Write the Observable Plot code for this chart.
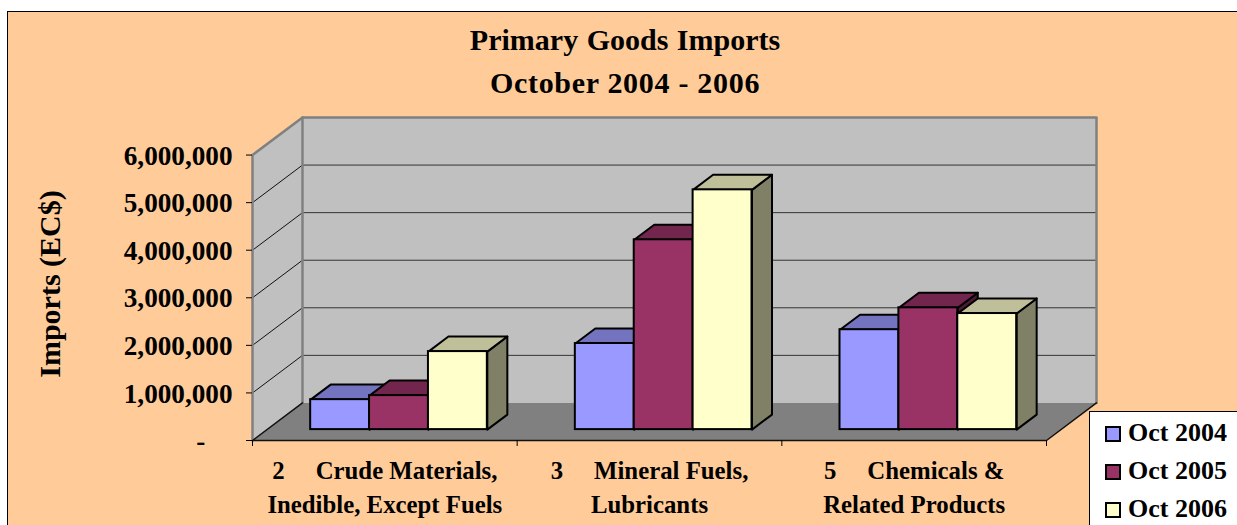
<!DOCTYPE html>
<html>
<head>
<meta charset="utf-8">
<script src="https://cdn.jsdelivr.net/npm/d3@7"></script>
<script src="https://cdn.jsdelivr.net/npm/@observablehq/plot@0.6"></script>
<style>
  html, body { margin: 0; padding: 0; background: #fff; overflow: hidden; }
  body { width: 1237px; height: 525px; position: relative; font-family: "Liberation Serif", serif; font-weight: bold; color: #000; }
  #panel { position: absolute; left: 7px; top: 11px; right: 0; bottom: 0; background: #FFCC99; border-left: 1.5px solid #000; border-top: 1.5px solid #000; }
  #chart { position: absolute; left: 0; top: 0; }
  #chart svg { display: block; background: transparent; }
  #title { position: absolute; left: 7px; width: 1236px; top: 18px; text-align: center; font-size: 30px; line-height: 43px; }
  #title .a { word-spacing: 1px; }
  #title .b { letter-spacing: 0.7px; }
  #legend { position: absolute; left: 1089px; top: 411px; width: 148px; height: 114px; background: #fff; border-left: 1.5px solid #000; border-top: 1.5px solid #000; box-sizing: border-box; }
  .item { position: absolute; left: 15px; font-size: 26px; line-height: 30px; white-space: nowrap; }
  .item i { position: absolute; left: 0; top: 8px; width: 12px; height: 12px; border: 2px solid #000; }
  .item span { position: absolute; left: 23px; top: 0; }
</style>
</head>
<body>
<div id="panel"></div>
<div id="chart"></div>
<div id="title"><span class="a">Primary Goods Imports</span><br><span class="b">October 2004 - 2006</span></div>
<div id="legend"></div>
<script>
const categories = [
  "2\u00a0\u00a0\u00a0\u00a0\u00a0Crude Materials,\nInedible, Except Fuels",
  "3\u00a0\u00a0\u00a0\u00a0\u00a0Mineral Fuels,\nLubricants",
  "5\u00a0\u00a0\u00a0\u00a0\u00a0Chemicals &\nRelated Products"
];
const seriesNames = ["Oct 2004", "Oct 2005", "Oct 2006"];
const oct2004 = [630000, 1810000, 2100000];
const oct2005 = [715000, 3990000, 2560000];
const oct2006 = [1640000, 5040000, 2440000];
const yTicks = [0, 1000000, 2000000, 3000000, 4000000, 5000000, 6000000];
const frontColors = ["#9999FF", "#993366", "#FFFFCC"];
const topColors = ["#7373BF", "#73264D", "#BFBF99"];
const sideColors = ["#4D4D80", "#4D1A33", "#808066"];

const seriesValues = [oct2004, oct2005, oct2006];
const DX = 0.1889, DY = 789500, YMAX = 6000000, XMAX = 3 + DX;
const D0 = 0.29, D1 = 0.69, GAP = 0.165, BW = 0.2225;
const P = (x, v, d = 0) => ({x: x + d * DX, y: v + d * DY});
const poly = (pts) => [...pts, pts[0]];

const bars = categories.flatMap((c, i) => seriesNames.map((s, k) => {
  const x1 = i + GAP + k * BW, x2 = x1 + BW, v = seriesValues[k][i];
  return {x1, x2, v, k};
}));

const barMarks = bars.flatMap(({x1, x2, v, k}) => [
  Plot.line(poly([P(x2, 0, D0), P(x2, 0, D1), P(x2, v, D1), P(x2, v, D0)]),
    {x: "x", y: "y", fill: sideColors[k], stroke: "#000", strokeWidth: 2, curve: "linear"}),
  Plot.line(poly([P(x1, v, D0), P(x1, v, D1), P(x2, v, D1), P(x2, v, D0)]),
    {x: "x", y: "y", fill: topColors[k], stroke: "#000", strokeWidth: 2, curve: "linear"}),
  Plot.rect([{x1: x1 + D0 * DX, x2: x2 + D0 * DX, y1: D0 * DY, y2: v + D0 * DY}],
    {x1: "x1", x2: "x2", y1: "y1", y2: "y2", fill: frontColors[k], stroke: "#000", strokeWidth: 2})
]);

const gridTicks = yTicks.slice(1, -1);

const plot = Plot.plot({
  width: 1237, height: 525,
  marginLeft: 252, marginRight: 141, marginTop: 117, marginBottom: 85,
  x: {domain: [0, XMAX], axis: null},
  y: {domain: [0, YMAX + DY], axis: null},
  style: {fontFamily: "'Liberation Serif', serif", fontWeight: "bold", fontSize: "26px", background: "transparent", color: "#000", overflow: "visible"},
  marks: [
    // walls
    Plot.line(poly([P(0, 0), P(0, YMAX), P(0, YMAX, 1), P(0, 0, 1)]), {x: "x", y: "y", fill: "#C0C0C0"}),
    Plot.line(poly([P(0, 0, 1), P(0, YMAX, 1), P(3, YMAX, 1), P(3, 0, 1)]), {x: "x", y: "y", fill: "#C0C0C0"}),
    // floor
    Plot.line(poly([P(0, 0), P(3, 0), P(3, 0, 1), P(0, 0, 1)]), {x: "x", y: "y", fill: "#808080"}),
    // gridlines
    ...gridTicks.map(v => Plot.line([P(0, v), P(0, v, 1)], {x: "x", y: "y", stroke: "#111", strokeWidth: 1})),
    ...gridTicks.map(v => Plot.line([P(0, v, 1), P(3, v, 1)], {x: "x", y: "y", stroke: "#333", strokeWidth: 1})),
    // wall edges
    Plot.line([P(0, 0), P(0, YMAX), P(0, YMAX, 1), P(3, YMAX, 1), P(3, 0, 1)], {x: "x", y: "y", stroke: "#808080", strokeWidth: 2.5}),
    Plot.line([P(0, 0, 1), P(0, YMAX, 1)], {x: "x", y: "y", stroke: "#808080", strokeWidth: 2.5}),
    // floor edges
    Plot.line([P(0, 0, 1), P(0, 0), P(3, 0), P(3, 0, 1)], {x: "x", y: "y", stroke: "#111", strokeWidth: 1.5}),
    ...barMarks,
    // axes
    Plot.axisY({ticks: yTicks, tickSize: 6, tickFormat: () => "", label: null, stroke: "#000"}),
    Plot.axisY({
      ticks: yTicks, tickSize: 0, tickPadding: 20, label: null, fontSize: 27.2, dy: 1,
      tickFormat: d => d === 0 ? "-\u00a0\u00a0\u00a0\u00a0" : d3.format(",")(d)
    }),
    Plot.axisX({ticks: [0, 1, 2, 3], tickSize: 6, tickFormat: () => "", label: null, stroke: "#000"}),
    Plot.axisX({
      ticks: [0.5, 1.5, 2.5], tickSize: 0, tickPadding: 14, label: null, lineHeight: 1.37, fontSize: 24.8,
      tickFormat: d => categories[Math.floor(d)]
    }),
    Plot.text(["Imports (EC$)"], {frameAnchor: "left", textAnchor: "middle", dx: -202, dy: 5, rotate: -90, text: d => d, fontSize: 30})
  ]
});
document.getElementById("chart").append(plot);

const legend = document.getElementById("legend");
seriesNames.forEach((name, k) => {
  const row = document.createElement("div");
  row.className = "item";
  row.style.top = (6 + k * 38) + "px";
  row.innerHTML = `<i style="background:${frontColors[k]}"></i><span>${name}</span>`;
  legend.append(row);
});
</script>
</body>
</html>
